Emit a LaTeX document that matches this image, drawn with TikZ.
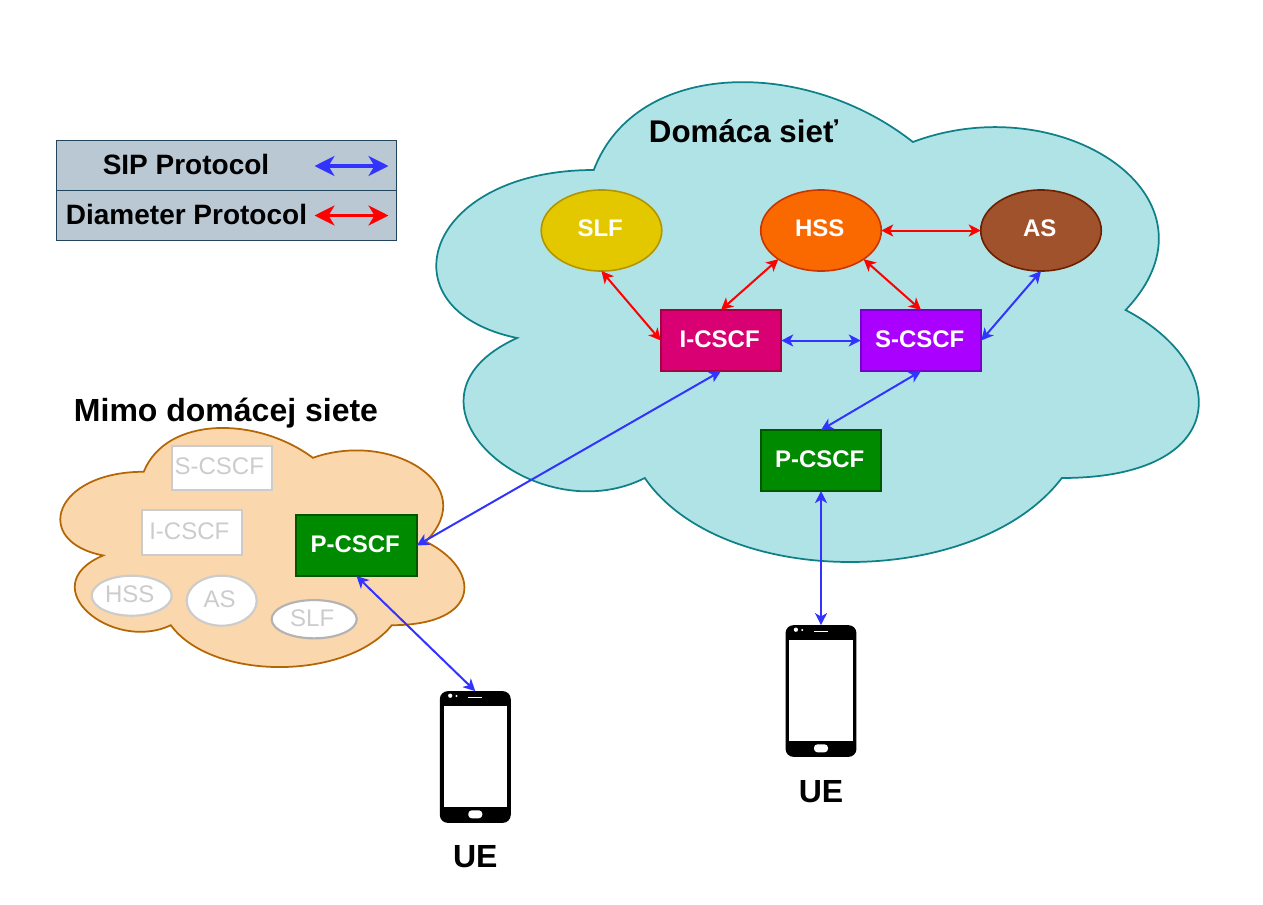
\documentclass[tikz,border=0pt]{standalone}
\usepackage{fontspec}
\setmainfont{Liberation Sans}
\usetikzlibrary{arrows.meta,shapes.geometric}
\definecolor{sipblue}{HTML}{3333FF}
\definecolor{diamred}{HTML}{FF0000}
\definecolor{ghost}{HTML}{CCCCCC}
\definecolor{slfghost}{HTML}{B3B3B3}
\definecolor{legendfill}{HTML}{BAC8D3}
\definecolor{legendline}{HTML}{23445D}
\definecolor{cyanfill}{HTML}{B0E3E6}
\definecolor{cyanline}{HTML}{0E8088}
\definecolor{peachfill}{HTML}{FAD7AC}
\definecolor{peachline}{HTML}{B46504}
\definecolor{slffill}{HTML}{E3C800}
\definecolor{slfline}{HTML}{B09500}
\definecolor{hssfill}{HTML}{FA6800}
\definecolor{hssline}{HTML}{C73500}
\definecolor{asfill}{HTML}{A0522D}
\definecolor{asline}{HTML}{6D1F00}
\definecolor{ifill}{HTML}{D80073}
\definecolor{iline}{HTML}{A50040}
\definecolor{sfill}{HTML}{AA00FF}
\definecolor{sline}{HTML}{7700CC}
\definecolor{pfill}{HTML}{008A00}
\definecolor{pline}{HTML}{005700}
\newcommand{\imscloud}[5]{%
  \begin{scope}[shift={(#1,#2)},xscale=#3,yscale=#4]
    \draw[#5] (0.25,0.25)
      .. controls (0.05,0.25) and (0,0.5) .. (0.16,0.55)
      .. controls (0,0.66) and (0.18,0.9) .. (0.31,0.8)
      .. controls (0.4,1) and (0.7,1) .. (0.8,0.8)
      .. controls (1,0.8) and (1,0.6) .. (0.875,0.5)
      .. controls (1,0.3) and (0.8,0.1) .. (0.625,0.2)
      .. controls (0.5,0.05) and (0.3,0.05) .. (0.25,0.25) -- cycle;
  \end{scope}}
\newcommand{\uephone}[2]{%
  \node[phonebody] (#1) at (#2) {};
  \fill[white] ([shift={(-31.7,-50.7)}]#1.center) rectangle ([shift={(31.7,50.3)}]#1.center);
  \draw[white,line width=1pt] ([shift={(-7,-59.7)}]#1.center) -- ([shift={(7,-59.7)}]#1.center);
  \fill[white] ([shift={(-25.1,-61.3)}]#1.center) circle[radius=1.6pt];
  \fill[white] ([shift={(-18.8,-61)}]#1.center) circle[radius=0.8pt];
  \fill[white,rounded corners=2.6pt] ([shift={(-7,53.3)}]#1.center) rectangle ([shift={(7,61.3)}]#1.center);}
\tikzset{
  x=0.75pt,y=-0.75pt,
  boxnode/.style={draw=#1,line width=1.2pt,minimum width=90.4pt,minimum height=45.8pt,inner sep=0pt,outer sep=0pt,
    text=white,text depth=1.5pt,font=\fontsize{18}{18}\selectfont\bfseries,execute at end node={\kern2pt}},
  ovalnode/.style={ellipse,draw=#1,line width=1.2pt,minimum width=90.4pt,minimum height=60.8pt,inner sep=0pt,outer sep=0pt,
    text=white,text depth=3pt,font=\fontsize{18}{18}\selectfont\bfseries,execute at end node={\kern2pt}},
  ghostbox/.style={draw=ghost,fill=white,line width=1.6pt,minimum width=75pt,minimum height=33.5pt,inner sep=0pt,outer sep=0pt,
    text=ghost,text depth=3pt,font=\fontsize{18}{18}\selectfont,execute at end node={\kern3.6pt}},
  ghostoval/.style={ellipse,draw=ghost,fill=white,line width=1.6pt,inner sep=0pt,outer sep=0pt,
    text=ghost,text depth=2pt,font=\fontsize{18}{18}\selectfont,execute at end node={\kern3pt}},
  title/.style={inner sep=0pt,font=\fontsize{24}{24}\selectfont\bfseries},
  legendrow/.style={draw=#1,fill=legendfill,line width=0.8pt,minimum width=254.6pt,minimum height=37.4pt,inner sep=0pt,outer sep=0pt},
  legendtext/.style={inner sep=0pt,font=\fontsize{21}{21}\selectfont\bfseries},
  sip/.style={draw=sipblue,line width=1.5pt,{Stealth[length=9pt,width=9pt,inset=2.5pt]}-{Stealth[length=9pt,width=9pt,inset=2.5pt]}},
  dia/.style={draw=diamred,line width=1.5pt,{Stealth[length=9pt,width=9pt,inset=2.5pt]}-{Stealth[length=9pt,width=9pt,inset=2.5pt]}},
  legsip/.style={draw=sipblue,line width=2.4pt,{Stealth[length=15pt,width=15pt,inset=4.5pt]}-{Stealth[length=15pt,width=15pt,inset=4.5pt]}},
  legdia/.style={draw=diamred,line width=2.4pt,{Stealth[length=15pt,width=15pt,inset=4.5pt]}-{Stealth[length=15pt,width=15pt,inset=4.5pt]}},
  phonebody/.style={fill=black,rounded corners=6pt,minimum width=53.2pt,minimum height=98.8pt,inner sep=0pt,outer sep=0pt},
}
\begin{document}
\begin{tikzpicture}
\useasboundingbox (0,0) rectangle (1263,904);
\fill[white] (0,0) rectangle (1263,904);

% clouds
\imscloud{381}{30}{851}{560}{fill=cyanfill,draw=cyanline,line width=1.3pt}
\imscloud{31}{402}{451}{279}{fill=peachfill,draw=peachline,line width=1.3pt}

% legend
\node[legendrow=legendline] (legA) at (226.3,165.7) {};
\node[legendrow=legendline] (legB) at (226.3,215.5) {};
\node[legendtext] (legAt) at (186,164.5) {SIP Protocol};
\node[legendtext] (legBt) at (186.5,214.5) {Diameter Protocol};
\coordinate (legAl) at (314.5,166);
\coordinate (legAr) at (388.5,166);
\coordinate (legBl) at (314.5,215.5);
\coordinate (legBr) at (388.5,215.5);
\draw[legsip] (legAl) -- (legAr);
\draw[legdia] (legBl) -- (legBr);

% titles
\node[title,font=\fontsize{23.5}{24}\selectfont\bfseries] (home) at (743.5,131) {Domáca sieť};
\node[title] (away) at (226,413.5) {Mimo domácej siete};

% home network
\node[ovalnode=slfline,fill=slffill] (slf) at (601.5,230.5) {SLF};
\node[ovalnode=hssline,fill=hssfill] (hss) at (821,230.5) {HSS};
\node[ovalnode=asline,fill=asfill] (as) at (1041,230.5) {AS};
\node[boxnode=iline,fill=ifill] (icscf) at (721,340.5) {I-CSCF};
\node[boxnode=sline,fill=sfill] (scscf) at (921,340.5) {S-CSCF};
\node[boxnode=pline,fill=pfill] (pcscfh) at (821,460.5) {P-CSCF};

% visited network
\node[ghostbox] (gs) at (221.7,468) {S-CSCF};
\node[ghostbox] (gi) at (191.7,532.7) {I-CSCF};
\node[ghostoval,minimum width=60pt,minimum height=30pt] (ghss) at (131.7,595.7) {HSS};
\node[ghostoval,minimum width=52.5pt,minimum height=37.5pt] (gas) at (221.7,600.7) {AS};
\node[ghostoval,draw=slfghost,minimum width=63.8pt,minimum height=28.7pt] (gslf) at (314.2,619.2) {SLF};
\node[boxnode=pline,fill=pfill] (pcscfv) at (356.5,545.5) {P-CSCF};

% phones
\uephone{uea}{475.3,757}
\uephone{ueb}{821,691}
\node[title] (uealabel) at (475.3,857) {UE};
\node[title] (ueblabel) at (821,792) {UE};

% connectors
\draw[dia] (slf.south) -- (icscf.west);
\draw[dia] (hss.south west) -- (icscf.north);
\draw[dia] (hss.south east) -- (scscf.north);
\draw[dia] (hss.east) -- (as.west);
\draw[sip] (as.south) -- (scscf.east);
\draw[sip] (icscf.east) -- (scscf.west);
\draw[sip] (icscf.south) -- (pcscfv.east);
\draw[sip] (scscf.south) -- (pcscfh.north);
\draw[sip] (pcscfh.south) -- (ueb.north);
\draw[sip] (pcscfv.south) -- (uea.north);
\end{tikzpicture}
\end{document}
